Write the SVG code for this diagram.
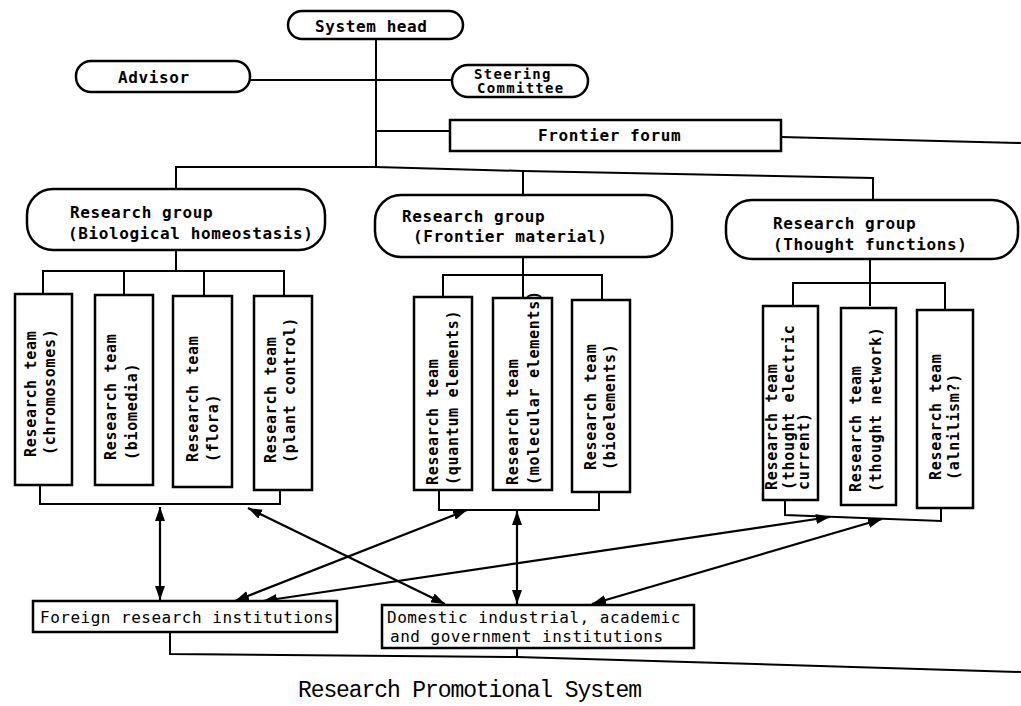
<svg xmlns="http://www.w3.org/2000/svg" width="1021" height="706" viewBox="0 0 1021 706">
<defs>
<style>
.bg{fill:#fff}
.box{fill:#fff;stroke:#000;stroke-width:2.5}
.pill{fill:#fff;stroke:#000;stroke-width:2.5}
.ln{fill:none;stroke:#000;stroke-width:2}
.ar{fill:none;stroke:#000;stroke-width:2.2;marker-start:url(#ah);marker-end:url(#ah)}
.t{font-family:"DejaVu Sans Mono","Liberation Mono",monospace;font-weight:bold;font-size:16px;letter-spacing:0.6px;fill:#000}
.ts{font-family:"DejaVu Sans Mono","Liberation Mono",monospace;font-weight:bold;font-size:14px;letter-spacing:1.3px;fill:#000}
.tv{font-family:"DejaVu Sans Mono","Liberation Mono",monospace;font-weight:bold;font-size:15px;letter-spacing:0.7px;fill:#000}
.tb{font-family:"DejaVu Sans Mono","Liberation Mono",monospace;font-size:16px;letter-spacing:0.5px;fill:#000}
.cap{font-family:"Liberation Mono","DejaVu Sans Mono",monospace;font-size:23px;letter-spacing:-1.1px;fill:#000}
</style>
<marker id="ah" viewBox="0 0 14 10" refX="14" refY="5" markerWidth="14" markerHeight="10" markerUnits="userSpaceOnUse" orient="auto-start-reverse">
<path d="M0,0 L14,5 L0,10 z" fill="#000"/>
</marker>
</defs>
<rect class="bg" x="0" y="0" width="1021" height="706"/>

<g id="connectors">
<path class="ln" d="M376,38 V168"/>
<path class="ln" d="M250,80 H452"/>
<path class="ln" d="M376,131 H450"/>
<path class="ln" d="M781,137 L1021,143"/>
<path class="ln" d="M176,189 V167 H376 L523,171 L873,178 V201"/>
<path class="ln" d="M523,171 V195"/>
<path class="ln" d="M176,250 V271"/>
<path class="ln" d="M43,294 V271 H284 V296"/>
<path class="ln" d="M124,271 V295"/>
<path class="ln" d="M204,271 V296"/>
<path class="ln" d="M523,257 V298"/>
<path class="ln" d="M443,297 V275 H602 V300"/>
<path class="ln" d="M870,259 V306"/>
<path class="ln" d="M793,306 V283 H945 V310"/>
<path class="ln" d="M40,485 V504 H280 V490"/>
<path class="ln" d="M439,490 V510 H599 V492"/>
<path class="ln" d="M785,500 V515 L941,521 V508"/>
<path class="ln" d="M170,632 V654 L517,657 L1021,672"/>
<path class="ln" d="M517,648 V657"/>
<path class="ar" d="M160,507 V600"/>
<path class="ar" d="M248,508 L445,604"/>
<path class="ar" d="M467,510 L235,601"/>
<path class="ar" d="M517,511 V604"/>
<path class="ar" d="M830,517 L263,601"/>
<path class="ar" d="M882,519 L592,604"/>
</g>

<g id="system-head">
<rect class="pill" x="288" y="11" width="175" height="28" rx="14"/>
<text class="t" x="315" y="32">System head</text>
</g>
<g id="advisor">
<rect class="pill" x="76" y="61" width="174" height="31" rx="15"/>
<text class="t" x="118" y="83">Advisor</text>
</g>
<g id="steering-committee">
<rect class="pill" x="452" y="65" width="136" height="32" rx="16"/>
<text class="ts" x="474" y="79">Steering</text>
<text class="ts" x="477" y="93">Committee</text>
</g>
<g id="frontier-forum">
<rect class="box" x="450" y="120" width="331" height="31"/>
<text class="t" x="538" y="141">Frontier forum</text>
</g>

<g id="group-bio">
<rect class="pill" x="27" y="189" width="298" height="61" rx="26"/>
<text class="t" x="70" y="218">Research group</text>
<text class="t" x="68" y="239">(Biological homeostasis)</text>
</g>
<g id="group-material">
<rect class="pill" x="375" y="195" width="297" height="62" rx="26"/>
<text class="t" x="402" y="222">Research group</text>
<text class="t" x="413" y="242">(Frontier material)</text>
</g>
<g id="group-thought">
<rect class="pill" x="726" y="200" width="292" height="59" rx="26"/>
<text class="t" x="773" y="229">Research group</text>
<text class="t" x="773" y="250">(Thought functions)</text>
</g>

<g id="team-chromosomes">
<rect class="box" x="15" y="294" width="57" height="191"/>
<text class="tv" transform="translate(36,457) rotate(-90)">Research team</text>
<text class="tv" transform="translate(55,455) rotate(-90)">(chromosomes)</text>
</g>
<g id="team-biomedia">
<rect class="box" x="95" y="295" width="58" height="190"/>
<text class="tv" transform="translate(116,460) rotate(-90)">Research team</text>
<text class="tv" transform="translate(137,460) rotate(-90)">(biomedia)</text>
</g>
<g id="team-flora">
<rect class="box" x="173" y="296" width="59" height="191"/>
<text class="tv" transform="translate(198,462) rotate(-90)">Research team</text>
<text class="tv" transform="translate(218,462) rotate(-90)">(flora)</text>
</g>
<g id="team-plant-control">
<rect class="box" x="254" y="296" width="58" height="194"/>
<text class="tv" transform="translate(276,463) rotate(-90)">Research team</text>
<text class="tv" transform="translate(295,463) rotate(-90)">(plant control)</text>
</g>

<g id="team-quantum">
<rect class="box" x="414" y="297" width="58" height="193"/>
<text class="tv" transform="translate(438,485) rotate(-90)">Research team</text>
<text class="tv" transform="translate(458,485) rotate(-90)">(quantum elements)</text>
</g>
<g id="team-molecular">
<rect class="box" x="493" y="298" width="59" height="192"/>
<text class="tv" transform="translate(518,485) rotate(-90)">Research team</text>
<text class="tv" transform="translate(539,485) rotate(-90)">(molecular elements)</text>
</g>
<g id="team-bioelements">
<rect class="box" x="572" y="300" width="58" height="192"/>
<text class="tv" transform="translate(596,470) rotate(-90)">Research team</text>
<text class="tv" transform="translate(615,470) rotate(-90)">(bioelements)</text>
</g>

<g id="team-thought-electric">
<rect class="box" x="763" y="306" width="55" height="194"/>
<text class="tv" transform="translate(777,490) rotate(-90)">Research team</text>
<text class="tv" transform="translate(794,490) rotate(-90)">(thought electric</text>
<text class="tv" transform="translate(809,490) rotate(-90)">current)</text>
</g>
<g id="team-thought-network">
<rect class="box" x="841" y="308" width="55" height="197"/>
<text class="tv" transform="translate(861,492) rotate(-90)">Research team</text>
<text class="tv" transform="translate(881,492) rotate(-90)">(thought network)</text>
</g>
<g id="team-alnilism">
<rect class="box" x="917" y="310" width="56" height="198"/>
<text class="tv" transform="translate(941,480) rotate(-90)">Research team</text>
<text class="tv" transform="translate(959,480) rotate(-90)">(alnilism?)</text>
</g>

<g id="foreign-institutions">
<rect class="box" x="33" y="601" width="304" height="31"/>
<text class="tb" x="40" y="623">Foreign research institutions</text>
</g>
<g id="domestic-institutions">
<rect class="box" x="382" y="605" width="312" height="43"/>
<text class="tb" x="387" y="623">Domestic industrial, academic</text>
<text class="tb" x="390" y="642">and government institutions</text>
</g>

<text class="cap" x="298" y="697">Research Promotional System</text>
</svg>
